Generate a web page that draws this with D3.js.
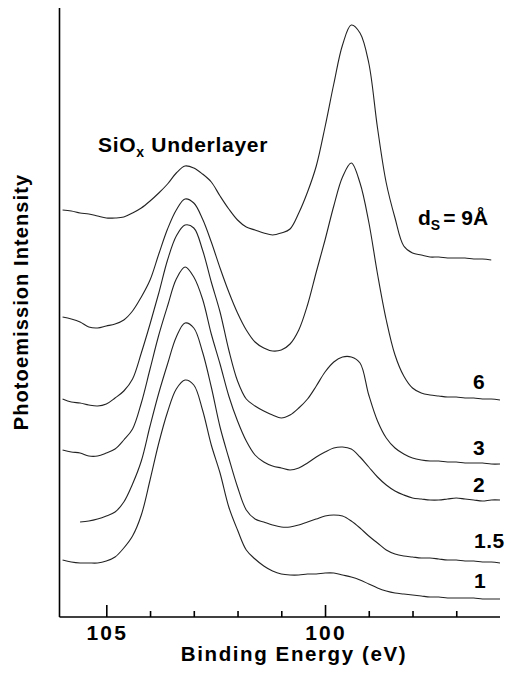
<!DOCTYPE html>
<html>
<head>
<meta charset="utf-8">
<script src="https://cdn.jsdelivr.net/npm/d3@7"></script>
<style>
  html, body { margin: 0; padding: 0; background: #fff; }
  svg { display: block; }
  text { font-family: "Liberation Sans", Arial, Helvetica, sans-serif; font-weight: bold; fill: #000; }
</style>
</head>
<body>
<svg id="chart" width="507" height="673"></svg>
<script>
// Binding energy grid (eV), shared by all spectra
const energies = [106.0,105.8,105.6,105.4,105.2,105.0,104.8,104.6,104.4,104.2,
  104.0,103.8,103.6,103.4,103.2,103.0,102.8,102.6,102.4,102.2,
  102.0,101.8,101.6,101.4,101.2,101.0,100.8,100.6,100.4,100.2,
  100.0,99.8,99.6,99.4,99.2,99.0,98.8,98.6,98.4,98.2,
  98.0,97.8,97.6,97.4,97.2,97.0,96.8,96.6,96.4,96.2,96.0];

// Photoemission intensity (arb. units, offset spectra)
const series9 = [407,406,404,403,401,399,399,400,404,409,416,424,433,444,451,449,443,435,421,408,
  397,390,387,384,382,384,388,404,425,451,490,533,572,592,584,554,489,434,399,371,
  364,362,360,360,359,359,359,358,358,357,null];
const series6 = [300,298,295,290,289,291,293,297,306,320,337,363,388,407,418,414,398,375,349,325,
  304,287,275,269,266,267,273,287,312,345,377,411,440,454,434,395,343,297,262,241,
  229,224,222,221,220,220,219,219,218,218,217];
const series3 = [218,215,214,212,211,213,219,226,238,264,293,324,357,381,392,389,367,335,305,267,
  236,218,211,206,202,199,202,209,218,231,245,255,260,260,254,222,196,179,169,163,
  159,157,156,156,155,155,154,154,154,153,153];
const series2 = [167,165,164,161,161,164,168,177,188,214,248,282,311,338,350,340,318,283,253,221,
  196,176,162,155,151,149,147,149,154,160,165,169,170,168,160,150,140,132,126,122,
  119,118,117,117,118,119,118,117,116,117,117];
const series15 = [null,null,95,96,98,101,105,115,133,156,191,224,253,280,294,289,265,230,190,159,
  130,107,98,95,92,90,90,92,95,98,101,102,101,96,89,81,74,67,63,61,
  60,59,59,58,57,57,56,56,55,55,54];
const series1 = [57,55,54,54,54,56,60,69,81,102,137,174,205,228,237,232,207,172,144,110,
  87,67,58,51,46,43,42,42,43,43,44,44,42,40,37,33,29,26,24,23,
  22,21,20,20,19,19,19,19,18,18,18];

const seriesLabels = ["9", "6", "3", "2", "1.5", "1"];
const majorTicks = [105, 100];
const minorTicks = [104, 103, 102, 101, 99, 98, 97];
const xTitle = "Binding Energy (eV)";
const yTitle = "Photoemission Intensity";

const allSeries = [series9, series6, series3, series2, series15, series1];

const svg = d3.select("#chart");
svg.append("rect").attr("width", 507).attr("height", 673).attr("fill", "#fff");

const x = d3.scaleLinear().domain([106.07, 96.0]).range([59.5, 500]);
const y = d3.scaleLinear().domain([0, 610]).range([617, 7]);

// spectra
const line = d3.line()
  .defined(d => d[1] !== null)
  .x(d => x(d[0]))
  .y(d => y(d[1]))
  .curve(d3.curveCatmullRom.alpha(0.5));

allSeries.forEach(s => {
  svg.append("path")
    .datum(energies.map((e, i) => [e, s[i]]))
    .attr("fill", "none")
    .attr("stroke", "#222")
    .attr("stroke-width", 1.1)
    .attr("d", line);
});

// axes
const axisMajor = d3.axisBottom(x).tickValues(majorTicks).tickSize(-12).tickFormat("");
const axisMinor = d3.axisBottom(x).tickValues(minorTicks).tickSize(-6).tickFormat("");
[axisMajor, axisMinor].forEach(ax => {
  const g = svg.append("g").attr("transform", "translate(0,617)").call(ax);
  g.select(".domain").remove();
  g.selectAll(".tick line").attr("stroke", "#000").attr("stroke-width", 1.6);
});
svg.append("line").attr("x1", 59.5).attr("x2", 500).attr("y1", 617).attr("y2", 617)
  .attr("stroke", "#000").attr("stroke-width", 1.6);
svg.append("line").attr("x1", 59.5).attr("x2", 59.5).attr("y1", 8).attr("y2", 617)
  .attr("stroke", "#000").attr("stroke-width", 1.6);

// tick labels
svg.selectAll("text.tl").data(majorTicks).enter().append("text")
  .attr("class", "tl")
  .attr("x", d => x(d) + 1)
  .attr("y", 640)
  .attr("text-anchor", "middle")
  .attr("font-size", 21)
  .attr("letter-spacing", 2.2)
  .text(d => d);

// axis titles
svg.append("text")
  .attr("x", 294).attr("y", 661)
  .attr("text-anchor", "middle")
  .attr("font-size", 20.5)
  .attr("letter-spacing", 1.6)
  .text(xTitle);

svg.append("text")
  .attr("transform", "translate(28,302) rotate(-90)")
  .attr("text-anchor", "middle")
  .attr("font-size", 20)
  .attr("letter-spacing", 1.1)
  .text(yTitle);

// SiOx Underlayer label
const t1 = svg.append("text").attr("x", 98).attr("y", 152).attr("font-size", 21).attr("letter-spacing", 0.7);
t1.append("tspan").text("SiO");
t1.append("tspan").attr("font-size", 14).attr("dy", 5).text("x");
t1.append("tspan").attr("dy", -5).text(" Underlayer");

// thickness label d_S = 9 Å
const t2 = svg.append("text").attr("x", 418).attr("y", 225).attr("font-size", 21);
t2.append("tspan").text("d");
t2.append("tspan").attr("font-size", 14).attr("dy", 5).text("S");
t2.append("tspan").attr("dy", -5).attr("dx", 3).text("= " + seriesLabels[0] + "Å");

// series labels
const labelPos = [null, [473, 389], [473, 455], [473, 492], [474, 548], [474, 588]];
seriesLabels.forEach((lab, i) => {
  if (!labelPos[i]) return;
  svg.append("text")
    .attr("x", labelPos[i][0]).attr("y", labelPos[i][1])
    .attr("font-size", 21)
    .attr("letter-spacing", 0.5)
    .text(lab);
});
</script>
</body>
</html>
